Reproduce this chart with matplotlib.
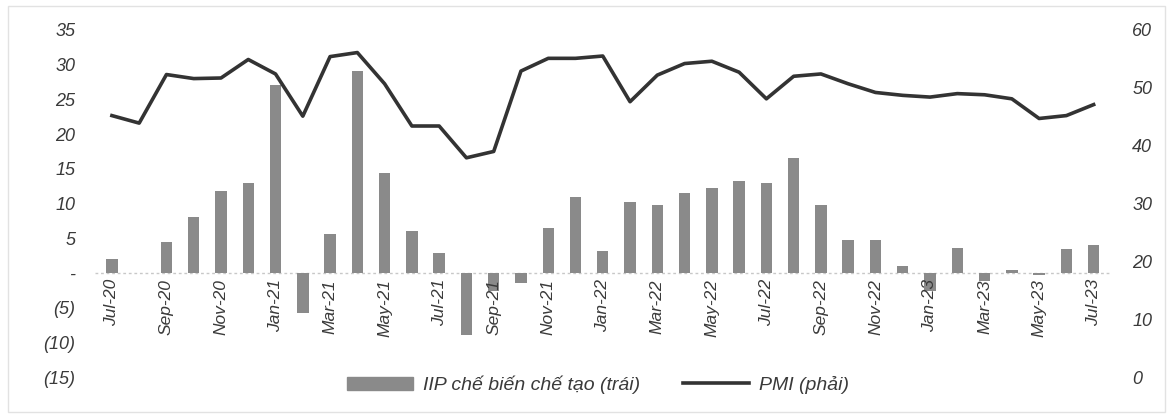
import matplotlib
matplotlib.use("Agg")
import matplotlib.pyplot as plt
from matplotlib.patches import Rectangle
from matplotlib.lines import Line2D

months = ["Jul-20", "Aug-20", "Sep-20", "Oct-20", "Nov-20", "Dec-20",
          "Jan-21", "Feb-21", "Mar-21", "Apr-21", "May-21", "Jun-21",
          "Jul-21", "Aug-21", "Sep-21", "Oct-21", "Nov-21", "Dec-21",
          "Jan-22", "Feb-22", "Mar-22", "Apr-22", "May-22", "Jun-22",
          "Jul-22", "Aug-22", "Sep-22", "Oct-22", "Nov-22", "Dec-22",
          "Jan-23", "Feb-23", "Mar-23", "Apr-23", "May-23", "Jun-23", "Jul-23"]

iip = [2.0, 0.0, 4.5, 8.1, 11.8, 12.9,
       27.1, -5.8, 5.6, 29.1, 14.4, 6.1,
       2.9, -8.9, -2.6, -1.4, 6.5, 11.0,
       3.1, 10.2, 9.8, 11.5, 12.3, 13.3,
       13.0, 16.5, 9.8, 4.8, 4.8, 1.0,
       -2.6, 3.6, -1.2, 0.4, -0.3, 3.4, 4.0]

pmi = [45.2, 43.9, 52.3, 51.6, 51.7, 54.9,
       52.4, 45.1, 55.4, 56.1, 50.7, 43.4,
       43.4, 37.9, 39.0, 52.9, 55.1, 55.1,
       55.5, 47.6, 52.2, 54.2, 54.6, 52.7,
       48.1, 52.0, 52.4, 50.7, 49.2, 48.7,
       48.4, 49.0, 48.8, 48.1, 44.7, 45.2, 47.1]

left_ticks = [-15, -10, -5, 0, 5, 10, 15, 20, 25, 30, 35]
right_ticks = [0, 10, 20, 30, 40, 50, 60]

legend_bar = "IIP chế biến chế tạo (trái)"
legend_line = "PMI (phải)"

W, H = 1173, 418
fig = plt.figure(figsize=(W / 100, H / 100), dpi=100)
fig.patch.set_facecolor("white")

# faint outer frame
fig.patches.append(Rectangle((8 / W, 6 / H), (W - 16) / W, (H - 12) / H,
                             transform=fig.transFigure, fill=False,
                             edgecolor="#e2e2e2", lw=1.0))

left, right = 95 / W, 1110 / W
bottom, top = 1 - 377 / H, 1 - 30 / H
ax = fig.add_axes([left, bottom, right - left, top - bottom])
ax2 = ax.twinx()

x = list(range(len(months)))
ax.bar(x, iip, width=0.42, color="#8a8a8a", lw=0, zorder=2)
ax.axhline(0, color="#c8c8c8", lw=1.0, ls=(0, (2, 2)), zorder=1)

ax2.plot(x, pmi, color="#333333", lw=2.6, solid_joinstyle="round", zorder=3)

ax.set_xlim(-0.62, 36.6)
ax.set_ylim(-15, 35)
ax2.set_ylim(0, 60)

fam = ["Liberation Sans", "DejaVu Sans"]

ax.set_yticks(left_ticks)
ax.set_yticklabels(["-" if v == 0 else (f"({-v})" if v < 0 else str(v)) for v in left_ticks],
                   fontsize=13, style="italic", color="#3a3a3a", family=fam)
ax2.set_yticks(right_ticks)
ax2.set_yticklabels([str(v) for v in right_ticks], fontsize=13, style="italic",
                    color="#3a3a3a", family=fam)
ax.tick_params(axis="y", length=0, pad=14)
ax2.tick_params(axis="y", length=0, pad=16)

# x labels at the zero line
ax.set_xticks([])
for i in range(0, len(months), 2):
    ax.text(i, -0.9, months[i], rotation=90, ha="center", va="top",
            fontsize=12.5, style="italic", color="#3a3a3a", family=fam)

for a in (ax, ax2):
    for s in a.spines.values():
        s.set_visible(False)
ax.patch.set_visible(False)

handles = [Rectangle((0, 0), 1, 1, color="#8a8a8a"),
           Line2D([], [], color="#333333", lw=2.6)]
leg = fig.legend(handles, [legend_bar, legend_line], loc="center",
                 bbox_to_anchor=(598 / W, 1 - 385 / H), ncol=2, frameon=False,
                 handlelength=3.4, handleheight=0.7, handletextpad=0.5,
                 columnspacing=2.2,
                 prop=dict(family=fam, style="italic", size=14))
for t in leg.get_texts():
    t.set_color("#3a3a3a")

fig.savefig("out.png", dpi=100)
